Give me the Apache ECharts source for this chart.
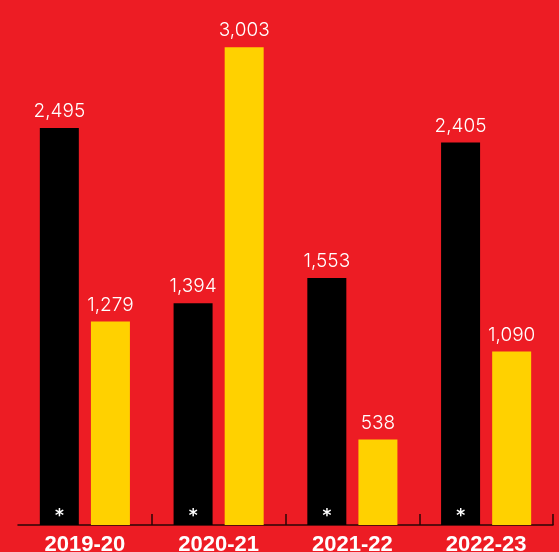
<!DOCTYPE html>
<html><head><meta charset="utf-8">
<script src="https://cdn.jsdelivr.net/npm/echarts@6/dist/echarts.min.js"></script>
<style>html,body{margin:0;padding:0;background:#ED1C24;}#c{width:559px;height:552px;}</style>
</head><body><div id="c"></div>
<script>
var categories = ['2019-20', '2020-21', '2021-22', '2022-23'];
var blackValues = [2495, 1394, 1553, 2405];
var yellowValues = [1279, 3003, 538, 1090];
var markerValues = [0, 0, 0, 0];

var chart = echarts.init(document.getElementById('c'));
var valueLabel = {
  show: true, position: 'top', distance: 7, color: '#fff',
  fontFamily: 'Inter', fontWeight: 300, fontSize: 19,
  formatter: function (p) { return echarts.format.addCommas(p.value); }
};
chart.setOption({
  backgroundColor: '#ED1C24',
  animation: false,
  grid: { left: 18, right: 6, top: 0, bottom: 27, containLabel: false, outerBoundsMode: 'none' },
  xAxis: {
    type: 'category', data: categories,
    axisLine: { lineStyle: { color: '#2a0606', width: 1.5 } },
    axisTick: { show: true, inside: true, length: 11, lineStyle: { color: '#2a0606', width: 1.5 },
      interval: function (i) { return i > 0; } },
    axisLabel: { color: '#fff', fontFamily: 'Liberation Sans', fontWeight: 'bold', fontSize: 22, margin: 9 }
  },
  yAxis: { type: 'value', min: 0, max: 3300, show: false, splitLine: { show: false } },
  series: [
    { type: 'bar', stack: 'b', data: markerValues, barWidth: 39, barGap: '31%',
      itemStyle: { color: '#000' },
      label: { show: true, position: 'insideBottom', distance: 1, offset: [0, 1], formatter: '*', color: '#fff',
        fontFamily: 'DejaVu Sans', fontWeight: 'bold', fontSize: 17 }, z: 3 },
    { type: 'bar', stack: 'b', data: blackValues, barWidth: 39, itemStyle: { color: '#000' }, label: valueLabel },
    { type: 'bar', data: yellowValues, barWidth: 39, itemStyle: { color: '#FFD100' }, label: valueLabel }
  ]
});
</script></body></html>
